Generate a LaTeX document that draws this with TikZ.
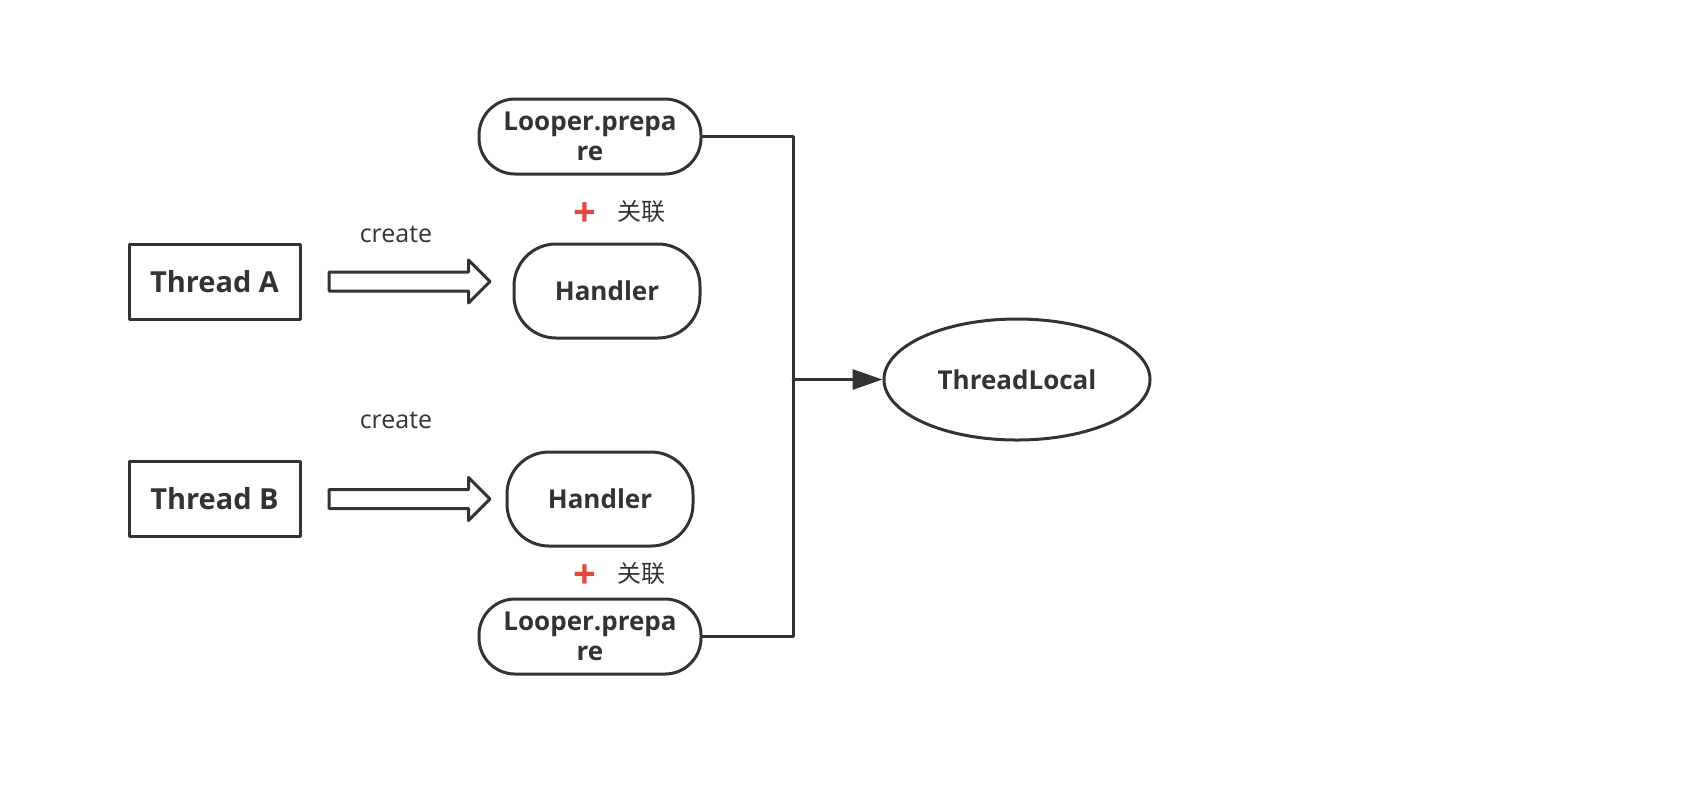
\documentclass[tikz,border=0pt]{standalone}
\usepackage{fontspec}
\setmainfont{Open Sans}
\newfontfamily\cjk{Noto Sans CJK SC}
\usetikzlibrary{positioning,shapes.geometric,shapes.arrows,arrows.meta}
\definecolor{ink}{HTML}{333333}
\definecolor{plusred}{HTML}{E5463F}
\begin{document}
\begin{tikzpicture}[line cap=round,line join=round,x=0.5pt,y=-0.5pt,
  every node/.style={text=ink},
  thread/.style={draw=ink,line width=1.5pt,minimum width=85.5pt,minimum height=37.5pt,inner sep=0pt,font=\fontsize{14.5}{16}\selectfont\bfseries},
  looper/.style={draw=ink,line width=1.5pt,rounded corners=18pt,minimum width=111pt,minimum height=37.5pt,inner sep=0pt,align=center,font=\fontsize{13}{15}\selectfont\bfseries},
  handler/.style={draw=ink,line width=1.5pt,rounded corners=21pt,minimum width=93pt,minimum height=47pt,inner sep=0pt,font=\fontsize{13}{15}\selectfont\bfseries},
  hollow/.style={draw=ink,line width=1.5pt,fill=white,single arrow,single arrow head extend=6pt,inner sep=4pt,minimum height=80.5pt,anchor=west},
  lbl/.style={font=\fontsize{12.5}{14}\selectfont},
  plus/.style={text=plusred,font=\fontsize{20}{20}\selectfont\bfseries},
  rel/.style={font=\fontsize{12}{14}\selectfont\cjk}]
\useasboundingbox (0,0) rectangle (1686,800);
\node[thread] (ta) at (214.5,281.5) {Thread A};
\node[thread] (tb) at (214.5,499) {Thread B};
\node[hollow,right=13pt of ta] (arrA) {};
\node[hollow,right=13pt of tb] (arrB) {};
\node[lbl] (crA) at (396,234) {create};
\node[lbl] (crB) at (396,420) {create};
\node[looper] (lpA) at (590,136.5) {Looper.prepa\\re};
\node[looper] (lpB) at (590,636.5) {Looper.prepa\\re};
\node[handler] (hA) at (607,291) {Handler};
\node[handler] (hB) at (600,499) {Handler};
\node[plus] (pA) at (585,215) {+};
\node[rel] (rA) at (641,212) {关联};
\node[plus] (pB) at (585,577) {+};
\node[rel] (rB) at (641,574) {关联};
\node[draw=ink,line width=1.5pt,ellipse,minimum width=133pt,minimum height=60.5pt,inner sep=0pt,font=\fontsize{13}{15}\selectfont\bfseries] (tl) at (1017,379.5) {ThreadLocal};
\coordinate (bus) at (793,379.5);
\draw[ink,line width=1.5pt] (lpA.east) -| (bus) |- (lpB.east);
\draw[ink,line width=1.5pt,-{Triangle[length=15pt,width=10pt]}] (bus) -- (tl.west);
\end{tikzpicture}
\end{document}
